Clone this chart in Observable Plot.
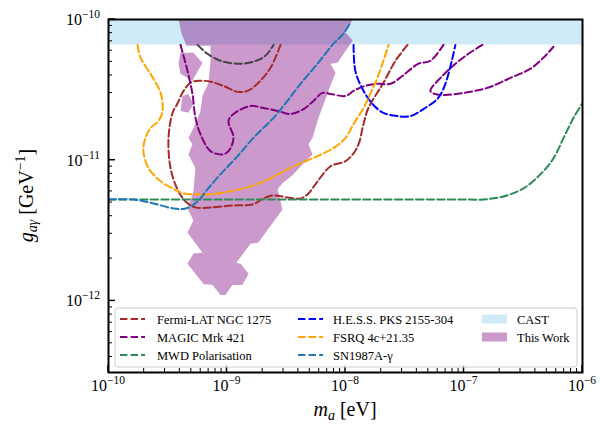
<!DOCTYPE html>
<html><head><meta charset="utf-8">
<script src="https://cdn.jsdelivr.net/npm/d3@7"></script>
<script src="https://cdn.jsdelivr.net/npm/@observablehq/plot@0.6"></script>
<style>
body{margin:0;background:#fff;}
#chart{width:603px;height:434px;}
</style></head><body><div id="chart"></div>
<script>
// ---- axis ticks ----
const xMajor = [1e-10, 1e-9, 1e-8, 1e-7, 1e-6];
const xMajorExp = ["−10", "−9", "−8", "−7", "−6"];
const yMajor = [1e-10, 1e-11, 1e-12];
const yMajorExp = ["−10", "−11", "−12"];
const xDomain = [1e-10, 1e-6];
const yDomain = [3.1e-13, 1e-10];

// ---- CAST limit ----
const castLimit = 6.6e-11;

// ---- This Work (filled region) ----
const thisWorkM = [3.90e-10, 1.15e-8, 1.0e-8, 1.15e-8, 8.56e-9, 7.46e-9, 8.24e-9, 7.46e-9, 5.92e-9, 5.27e-9, 4.87e-9, 5.27e-9, 4.43e-9, 3.57e-9, 2.94e-9, 2.67e-9, 2.94e-9, 1.84e-9, 1.58e-9, 1.20e-9, 1.30e-9, 1.52e-9, 1.35e-9, 1.11e-9, 9.71e-10, 8.81e-10, 7.55e-10, 6.34e-10, 4.64e-10, 5.21e-10, 6.21e-10, 4.64e-10, 5.21e-10, 4.64e-10, 5.21e-10, 5.42e-10, 4.73e-10, 5.11e-10, 4.73e-10, 5.42e-10, 5.97e-10, 6.21e-10, 6.98e-10, 7.26e-10, 7.26e-10, 4.55e-10, 4.13e-10];
const thisWorkG = [1e-10, 1e-10, 8.07e-11, 7.08e-11, 4.93e-11, 4.85e-11, 4.18e-11, 3.38e-11, 2.0e-11, 1.44e-11, 1.30e-11, 1.10e-11, 9.52e-12, 7.81e-12, 6.85e-12, 6.21e-12, 4.47e-12, 2.60e-12, 2.55e-12, 1.87e-12, 1.84e-12, 1.56e-12, 1.30e-12, 1.30e-12, 1.10e-12, 1.10e-12, 1.30e-12, 1.32e-12, 1.84e-12, 2.17e-12, 2.20e-12, 3.06e-12, 3.73e-12, 4.54e-12, 6.01e-12, 8.77e-12, 1.10e-11, 1.30e-11, 1.44e-11, 1.81e-11, 2.24e-11, 2.86e-11, 3.55e-11, 5.09e-11, 6.52e-11, 6.52e-11, 7.94e-11];
const islandAM = [4.05e-10, 5.21e-10, 6.21e-10, 5.11e-10, 4.05e-10, 3.90e-10];
const islandAG = [5.81e-11, 5.81e-11, 4.93e-11, 3.67e-11, 4.11e-11, 4.85e-11];
const islandBM = [4.21e-10, 4.73e-10, 5.21e-10, 4.73e-10, 4.05e-10];
const islandBG = [2.86e-11, 2.96e-11, 2.51e-11, 2.17e-11, 2.24e-11];

// ---- grey contour ----
const greyM = [5.64e-10, 6.84e-10, 8.81e-10, 1.23e-9, 1.67e-9, 2.11e-9, 2.47e-9];
const greyG = [6.6e-11, 5.71e-11, 5.09e-11, 4.85e-11, 5.01e-11, 5.53e-11, 6.6e-11];

// ---- Fermi-LAT NGC 1275 ----
const fermiM = [2.83e-9, 2.33e-9, 1.84e-9, 1.49e-9, 1.23e-9, 9.3e-10, 7.3e-10, 5.75e-10, 4.9e-10, 4.3e-10, 3.8e-10, 3.47e-10, 3.21e-10, 3.34e-10, 3.82e-10, 4.47e-10, 5.42e-10, 7.26e-10, 1.14e-9, 1.64e-9, 2.03e-9, 2.47e-9, 3.24e-9, 4.17e-9, 4.87e-9, 5.81e-9, 7.47e-9, 1.0e-8, 1.17e-8, 1.29e-8, 1.42e-8, 1.56e-8, 2.09e-8, 2.64e-8, 3.34e-8];
const fermiG = [6.6e-11, 4.54e-11, 3.55e-11, 3.11e-11, 3.06e-11, 3.38e-11, 3.61e-11, 3.67e-11, 3.55e-11, 3.11e-11, 2.51e-11, 2.17e-11, 1.44e-11, 8.77e-12, 6.21e-12, 5.09e-12, 4.62e-12, 4.62e-12, 4.77e-12, 4.85e-12, 5.35e-12, 5.62e-12, 5.44e-12, 5.35e-12, 5.81e-12, 7.08e-12, 9.06e-12, 9.84e-12, 1.12e-11, 1.30e-11, 1.81e-11, 2.35e-11, 3.55e-11, 5.09e-11, 6.6e-11];

// ---- MAGIC Mrk 421 (two pieces) ----
const magicAM = [4.05e-10, 4.64e-10, 5.11e-10, 5.42e-10, 5.97e-10, 7.26e-10, 9.16e-10, 1.03e-9, 1.135e-9, 1.03e-9, 1.135e-9, 1.58e-9, 2.03e-9, 2.67e-9, 3.43e-9, 4.43e-9, 5.37e-9, 6.40e-9, 7.46e-9, 1.0e-8, 1.17e-8, 1.47e-8, 1.86e-8, 2.40e-8, 3.03e-8, 4.13e-8, 5.21e-8, 6.71e-8];
const magicAG = [6.6e-11, 4.32e-11, 2.96e-11, 2.0e-11, 1.53e-11, 1.16e-11, 1.10e-11, 1.16e-11, 1.44e-11, 1.90e-11, 2.13e-11, 2.43e-11, 2.35e-11, 2.24e-11, 2.13e-11, 2.31e-11, 2.64e-11, 3.01e-11, 2.96e-11, 2.86e-11, 3.11e-11, 3.38e-11, 3.49e-11, 3.49e-11, 3.98e-11, 4.85e-11, 5.09e-11, 6.6e-11];
const magicBM = [1.43e-7, 1.09e-7, 8.47e-8, 6.59e-8, 5.21e-8, 5.64e-8, 6.98e-8, 9.91e-8, 1.58e-7, 2.47e-7, 3.64e-7, 4.69e-7, 5.69e-7];
const magicBG = [6.6e-11, 5.71e-11, 4.85e-11, 3.98e-11, 3.11e-11, 2.96e-11, 2.91e-11, 3.01e-11, 3.27e-11, 3.85e-11, 4.47e-11, 5.36e-11, 6.4e-11];

// ---- MWD Polarisation ----
const mwdM = [1e-10, 2.91e-8, 9.33e-8, 1.46e-7, 2.15e-7, 3.18e-7, 4.42e-7, 5.69e-7, 6.92e-7, 8.40e-7, 1e-6];
const mwdG = [5.26e-12, 5.26e-12, 5.26e-12, 5.26e-12, 5.53e-12, 6.31e-12, 7.94e-12, 1.03e-11, 1.44e-11, 2.0e-11, 2.55e-11];

// ---- H.E.S.S. PKS 2155-304 ----
const hessM = [1.17e-8, 1.21e-8, 1.39e-8, 1.69e-8, 2.09e-8, 2.75e-8, 3.54e-8, 4.55e-8, 5.97e-8, 6.71e-8, 7.40e-8, 8.00e-8, 8.47e-8];
const hessG = [6.6e-11, 4.32e-11, 3.22e-11, 2.51e-11, 2.17e-11, 2.06e-11, 2.06e-11, 2.31e-11, 2.73e-11, 3.22e-11, 4.11e-11, 5.36e-11, 6.6e-11];

// ---- FSRQ 4c+21.35 ----
const fsrqM = [1.76e-10, 1.86e-10, 2.26e-10, 2.75e-10, 2.86e-10, 2.64e-10, 2.26e-10, 2.05e-10, 1.97e-10, 2.18e-10, 2.75e-10, 3.47e-10, 4.30e-10, 5.64e-10, 7.26e-10, 1.07e-9, 1.58e-9, 2.33e-9, 3.00e-9, 4.17e-9, 5.81e-9, 7.92e-9, 1.0e-8, 1.17e-8, 1.42e-8, 1.62e-8, 1.86e-8, 2.09e-8, 2.31e-8];
const fsrqG = [6.6e-11, 5.36e-11, 4.11e-11, 3.01e-11, 2.24e-11, 1.90e-11, 1.69e-11, 1.44e-11, 1.16e-11, 8.77e-12, 7.08e-12, 6.31e-12, 5.81e-12, 5.72e-12, 5.72e-12, 6.01e-12, 6.52e-12, 7.44e-12, 8.34e-12, 9.52e-12, 1.07e-11, 1.22e-11, 1.44e-11, 1.81e-11, 2.35e-11, 2.96e-11, 3.85e-11, 5.09e-11, 6.6e-11];

// ---- SN1987A-gamma ----
const snM = [1e-10, 1.63e-10, 2.40e-10, 3.54e-10, 4.47e-10, 5.64e-10, 6.84e-10, 8.81e-10, 1.23e-9, 1.67e-9, 2.47e-9, 3.24e-9, 4.17e-9, 5.81e-9, 7.92e-9, 9.62e-9, 1.10e-8];
const snG = [5.26e-12, 5.26e-12, 4.93e-12, 4.54e-12, 4.54e-12, 5.09e-12, 6.21e-12, 7.94e-12, 1.07e-11, 1.44e-11, 2.0e-11, 2.64e-11, 3.49e-11, 4.85e-11, 6.74e-11, 7.94e-11, 9.5e-11];

// ---- legend ----
const legendLines = [
  {label: "Fermi-LAT NGC 1275", color: "#a52a2a"},
  {label: "MAGIC Mrk 421", color: "#800080"},
  {label: "MWD Polarisation", color: "#2e8b57"},
  {label: "H.E.S.S. PKS 2155-304", color: "#0000ff"},
  {label: "FSRQ 4c+21.35", color: "#ffa500"},
  {label: "SN1987A-γ", color: "#1f77b4"}
];
const legendPatches = [
  {label: "CAST", color: "#87ceeb", opacity: 0.4},
  {label: "This Work", color: "purple", opacity: 0.4}
];

const pts = (ms, gs) => ms.map((m, i) => ({m, g: gs[i]}));
const dash = "7.4,3.2";
const lineOpts = (color) => ({x: "m", y: "g", stroke: color, strokeWidth: 2, strokeDasharray: dash, curve: "catmull-rom", clip: true});

const plot = Plot.plot({
  width: 603, height: 434,
  marginLeft: 108, marginRight: 21, marginTop: 19, marginBottom: 62,
  x: {type: "log", domain: xDomain, axis: null},
  y: {type: "log", domain: yDomain, axis: null},
  style: {background: "white", fontFamily: "'Liberation Serif', serif"},
  marks: [
    Plot.rect([{x1: xDomain[0], x2: xDomain[1], y1: castLimit, y2: yDomain[1]}], {x1: "x1", x2: "x2", y1: "y1", y2: "y2", fill: "#87ceeb", fillOpacity: 0.4}),
    Plot.line(pts(thisWorkM, thisWorkG), {x: "m", y: "g", fill: "purple", fillOpacity: 0.4, stroke: "none", curve: "linear-closed", clip: true}),
    Plot.line(pts(islandAM, islandAG), {x: "m", y: "g", fill: "purple", fillOpacity: 0.4, stroke: "none", curve: "linear-closed", clip: true}),
    Plot.line(pts(islandBM, islandBG), {x: "m", y: "g", fill: "purple", fillOpacity: 0.4, stroke: "none", curve: "linear-closed", clip: true}),
    Plot.line(pts(greyM, greyG), lineOpts("#444444")),
    Plot.line(pts(fermiM, fermiG), lineOpts(legendLines[0].color)),
    Plot.line(pts(magicAM, magicAG), lineOpts(legendLines[1].color)),
    Plot.line(pts(magicBM, magicBG), lineOpts(legendLines[1].color)),
    Plot.line(pts(mwdM, mwdG), lineOpts(legendLines[2].color)),
    Plot.line(pts(hessM, hessG), lineOpts(legendLines[3].color)),
    Plot.line(pts(fsrqM, fsrqG), lineOpts(legendLines[4].color)),
    Plot.line(pts(snM, snG), lineOpts(legendLines[5].color)),
    Plot.frame({stroke: "black", strokeWidth: 2})
  ]
});
document.getElementById("chart").appendChild(plot);

// ---- ticks, labels, legend drawn with the plot's scales ----
(function () {
  const svg = d3.select(plot);
  const sx = plot.scale("x"), sy = plot.scale("y");
  const X = v => sx.apply(v), Y = v => sy.apply(v);
  const yBottom = Y(yDomain[0]), yTop = Y(yDomain[1]);
  const xLeft = X(xDomain[0]), xRight = X(xDomain[1]);
  const font = "'Liberation Serif', serif";

  const tg = svg.append("g").attr("stroke", "black");
  const xMinor = [], yMinor = [];
  for (let k = -10; k < -6; k++) for (let j = 2; j <= 9; j++) xMinor.push(j * 10 ** k);
  for (let k = -13; k < -10; k++) for (let j = 2; j <= 9; j++) { const v = j * 10 ** k; if (v >= yDomain[0]) yMinor.push(v); }
  xMajor.forEach(v => tg.append("line").attr("x1", X(v)).attr("x2", X(v)).attr("y1", yBottom).attr("y2", yBottom - 7).attr("stroke-width", 1.5));
  xMinor.forEach(v => tg.append("line").attr("x1", X(v)).attr("x2", X(v)).attr("y1", yBottom).attr("y2", yBottom - 4).attr("stroke-width", 1));
  yMajor.forEach(v => tg.append("line").attr("y1", Y(v)).attr("y2", Y(v)).attr("x1", xLeft).attr("x2", xLeft + 7).attr("stroke-width", 1.5));
  yMinor.forEach(v => tg.append("line").attr("y1", Y(v)).attr("y2", Y(v)).attr("x1", xLeft).attr("x2", xLeft + 4).attr("stroke-width", 1));

  const lg = svg.append("g").attr("font-family", font).attr("fill", "black");
  xMajor.forEach((v, i) => {
    const t = lg.append("text").attr("x", X(v)).attr("y", yBottom + 19).attr("text-anchor", "middle").attr("font-size", 16);
    t.append("tspan").text("10");
    t.append("tspan").attr("dy", -7).attr("font-size", 11.5).text(xMajorExp[i]);
  });
  yMajor.forEach((v, i) => {
    const t = lg.append("text").attr("x", xLeft - 8).attr("y", Y(v) + 6).attr("text-anchor", "end").attr("font-size", 16);
    t.append("tspan").text("10");
    t.append("tspan").attr("dy", -7).attr("font-size", 11.5).text(yMajorExp[i]);
  });
  {
    const t = lg.append("text").attr("x", (xLeft + xRight) / 2).attr("y", yBottom + 44).attr("text-anchor", "middle").attr("font-size", 20);
    t.append("tspan").attr("font-style", "italic").text("m");
    t.append("tspan").attr("font-style", "italic").attr("font-size", 14).attr("dy", 4).text("a");
    t.append("tspan").attr("dy", -4).text(" [eV]");
  }
  {
    const t = lg.append("text").attr("transform", `translate(33,${(yTop + yBottom) / 2}) rotate(-90)`).attr("text-anchor", "middle").attr("font-size", 20);
    t.append("tspan").attr("font-style", "italic").text("g");
    t.append("tspan").attr("font-style", "italic").attr("font-size", 14).attr("dy", 4).text("aγ");
    t.append("tspan").attr("dy", -4).text(" [GeV");
    t.append("tspan").attr("font-size", 14).attr("dy", -8).text("−1");
    t.append("tspan").attr("dy", 8).text("]");
  }
  {
    const g = svg.append("g").attr("font-family", font).attr("font-size", 12.5).attr("text-anchor", "start");
    g.append("rect").attr("x", 115).attr("y", 308).attr("width", 462).attr("height", 59).attr("rx", 3)
      .attr("fill", "white").attr("fill-opacity", 0.8).attr("stroke", "#cccccc");
    const rows = [319, 337, 355];
    const cols = [{hx: 120, tx: 157}, {hx: 298, tx: 333}];
    legendLines.forEach((d, i) => {
      const c = cols[Math.floor(i / 3)], y = rows[i % 3];
      g.append("line").attr("x1", c.hx).attr("x2", c.hx + 25).attr("y1", y).attr("y2", y)
        .attr("stroke", d.color).attr("stroke-width", 2).attr("stroke-dasharray", dash);
      g.append("text").attr("x", c.tx).attr("y", y + 4.5).attr("text-anchor", "start").text(d.label);
    });
    legendPatches.forEach((d, i) => {
      const y = rows[i];
      g.append("rect").attr("x", 482).attr("y", y - 4.5).attr("width", 25).attr("height", 9)
        .attr("fill", d.color).attr("fill-opacity", d.opacity);
      g.append("text").attr("x", 517).attr("y", y + 4.5).attr("text-anchor", "start").text(d.label);
    });
  }
})();
</script></body></html>
